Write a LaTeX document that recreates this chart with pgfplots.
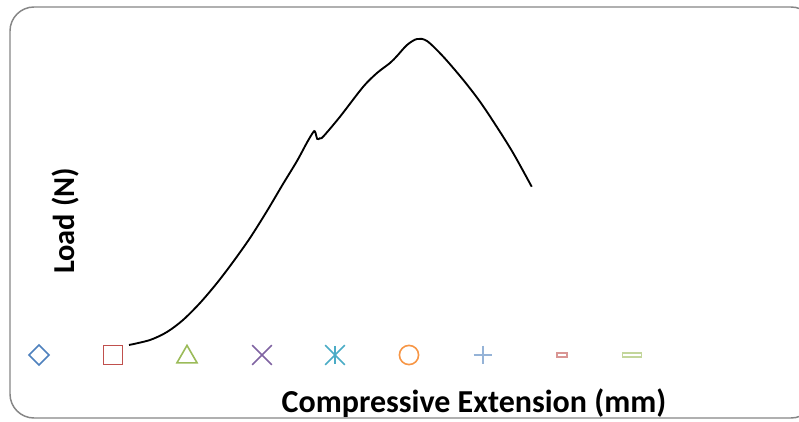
\documentclass[border=0pt]{standalone}
\usepackage{pgfplots}
\pgfplotsset{compat=1.18}
\usepackage{fontspec}
\setmainfont{Carlito}
\definecolor{mblue}{HTML}{4F81BD}
\definecolor{mred}{HTML}{C0504D}
\definecolor{mgreen}{HTML}{9BBB59}
\definecolor{mpurple}{HTML}{8064A2}
\definecolor{mcyan}{HTML}{4BACC6}
\definecolor{morange}{HTML}{F79646}
\definecolor{lblue}{HTML}{95B3D7}
\definecolor{lred}{HTML}{D99694}
\definecolor{lgreen}{HTML}{C3D69B}
\definecolor{bord}{HTML}{868686}
\begin{document}
\begin{tikzpicture}
\begin{axis}[
  width=599.25pt, height=315.75pt, scale only axis,
  xmin=0, xmax=799, ymin=0, ymax=421,
  hide axis, clip=false,
]
\draw[bord, line width=1.1pt, rounded corners=18pt] (axis cs:10,3) rectangle (axis cs:815,414);
\addplot[black, line width=1.4pt, smooth, tension=0.5] coordinates {
 (129,76) (150,81) (167,89) (183,101) (200,118) (217,138) (233,159) (250,183)
 (267,210) (283,237) (297,260) (307,278.5) (313,288.5) (315,289.5) (317.3,282) (320,282.8)
 (323.3,284.5) (340,304.3) (363,334) (377,348) (390,358) (397,365) (407,376)
 (417,382) (427,380) (443.3,364.3) (463.3,341) (480,319.3) (496.7,294.3) (513.3,267.7) (531.7,234.3)
};
\addplot[only marks, mark=square, mark size=5.3pt, mark options={rotate=45, draw=mblue, line width=1.2pt}] coordinates {(39,66)};
\addplot[only marks, mark=square, mark size=7.2pt, mark options={draw=mred, line width=1.2pt}] coordinates {(113,66)};
\addplot[only marks, mark=triangle, mark size=8.7pt, mark options={draw=mgreen, line width=1.2pt}] coordinates {(187,64)};
\addplot[only marks, mark=x, mark size=10.4pt, mark options={draw=mpurple, line width=1.1pt}] coordinates {(262,66)};
\addplot[only marks, mark=x, mark size=10.4pt, mark options={draw=mcyan, line width=1.1pt}] coordinates {(335,66)};
\addplot[only marks, mark=|, mark size=6.9pt, mark options={draw=mcyan, line width=1.1pt}] coordinates {(335,66)};
\addplot[only marks, mark=o, mark size=7.2pt, mark options={draw=morange, line width=1.2pt}] coordinates {(409,66)};
\addplot[only marks, mark=+, mark size=7pt, mark options={draw=lblue, line width=1.1pt}] coordinates {(483,66)};
\addplot[only marks, mark=square, mark size=3.7pt, mark options={draw=lred, line width=1.1pt, yscale=0.4}] coordinates {(562,66)};
\addplot[only marks, mark=square, mark size=7.2pt, mark options={draw=lgreen, line width=1.1pt, yscale=0.22}] coordinates {(632,66)};
\node[font=\fontsize{24}{28}\selectfont\bfseries] at (axis cs:474,18) {Compressive Extension (mm)};
\node[font=\fontsize{22.8}{26}\selectfont\bfseries, rotate=90] at (axis cs:66,200) {Load (N)};
\end{axis}
\pgfresetboundingbox
\useasboundingbox (current axis.south west) rectangle (current axis.north east);
\end{tikzpicture}
\end{document}
